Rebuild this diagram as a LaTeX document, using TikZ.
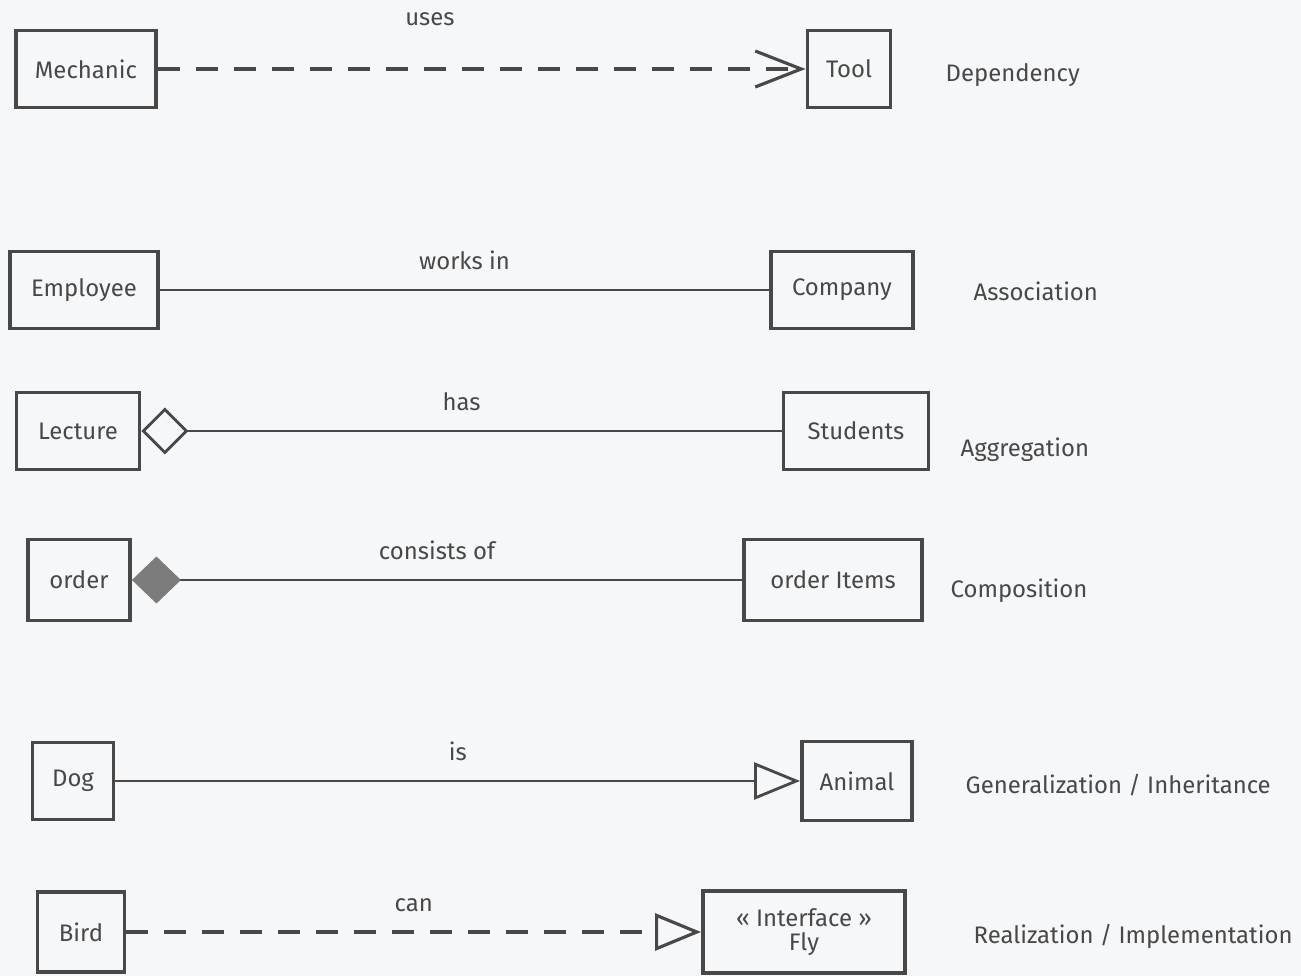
\documentclass[tikz,border=0pt]{standalone}
\usepackage{fontspec}
\setmainfont{Fira Sans}
\usetikzlibrary{positioning,arrows.meta}
\definecolor{ink}{HTML}{484848}
\definecolor{paper}{HTML}{F6F7F9}
\definecolor{hatch}{HTML}{7C7C7C}
\tikzset{>=latex}
\tikzset{
  cls/.style={draw=ink, line width=1.1pt, text=ink, minimum height=0.77cm, font=\fontsize{6.8}{8}\selectfont},
  rel/.style={draw=ink, line width=0.8pt},
  dep/.style={rel, line width=0.9pt, dash pattern=on 0.22cm off 0.16cm},
  lbl/.style={text=ink, font=\fontsize{6.8}{8}\selectfont},
  kind/.style={text=ink, anchor=west, inner sep=0pt, font=\fontsize{6.8}{8}\selectfont}
}

\begin{document}
\begin{tikzpicture}
      \fill[paper] (0,0) rectangle (13.01,-9.76);
      \useasboundingbox (0,0) rectangle (13.01,-9.76);
      \node[cls, minimum width=1.40cm] (mech) at (0.86,-0.69) {Mechanic};
      \node[cls, minimum width=0.83cm, right of=mech, node distance=7.63cm] (tool) {Tool};
      \node[cls, minimum width=1.48cm] (empl) at (0.84,-2.90) {Employee};
      \node[cls, minimum width=1.42cm, right of=empl, node distance=7.58cm] (comp) {Company};
      \node[cls, minimum width=1.23cm] (lect) at (0.78,-4.31) {Lecture};
      \node[cls, minimum width=1.45cm, right of=lect, node distance=7.78cm] (stud) {Students};
      \node[cls, minimum width=1.02cm, minimum height=0.81cm] (order) at (0.79,-5.80) {order};
      \node[cls, minimum width=1.78cm, minimum height=0.81cm, right of=order, node distance=7.54cm] (items) {order Items};
      \node[cls, minimum width=0.81cm] (dog) at (0.73,-7.81) {Dog};
      \node[cls, minimum width=1.10cm, minimum height=0.79cm, right of=dog, node distance=7.84cm] (animal) {Animal};
      \node[cls, minimum width=0.87cm, minimum height=0.80cm] (bird) at (0.81,-9.32) {Bird};
      \node[cls, minimum width=2.02cm, minimum height=0.82cm, align=center, right of=bird, node distance=7.23cm] (fly) {« Interface »\\[-1pt]Fly};
      \draw[dep, -{Straight Barb[length=0.46cm, width=0.36cm]}] (mech) -- node[lbl, pos=0.42, above=0.3cm] (luses) {uses} (tool);
      \draw[rel] (empl) -- node[lbl, above=0.07cm] (lworks) {works in} (comp);
      \draw[rel, {Diamond[open, length=0.47cm, width=0.47cm]}-] (lect) -- node[lbl, above=0.07cm] (lhas) {has} (stud);
      \draw[rel, {Diamond[color=hatch, length=0.49cm, width=0.47cm]}-] (order) -- node[lbl, above=0.07cm] (lconsists) {consists of} (items);
      \draw[rel, -{Triangle[open, length=0.46cm, width=0.37cm]}] (dog) -- node[lbl, above=0.07cm] (lis) {is} (animal);
      \draw[dep, -{Triangle[open, length=0.46cm, width=0.37cm]}] (bird) -- node[lbl, above=0.07cm] (lcan) {can} (fly);
      \node[kind] (kdep) at (9.45,-0.75) {Dependency};
      \node[kind] (kasso) at (9.73,-2.91) {Association};
      \node[kind] (kaggr) at (9.60,-4.50) {Aggregation};
      \node[kind] (kcomp) at (9.50,-5.91) {Composition};
      \node[kind] (kgen) at (9.65,-7.85) {Generalization / Inheritance};
      \node[kind] (kreal) at (9.73,-9.36) {Realization / Implementation};
    \end{tikzpicture}
\end{document}
